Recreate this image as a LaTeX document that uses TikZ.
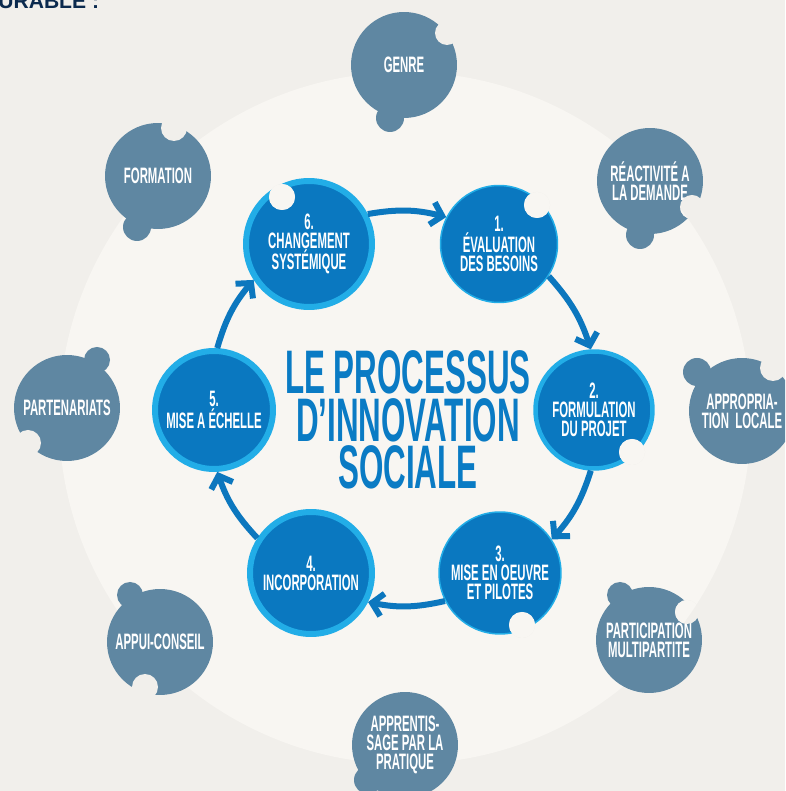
\documentclass[tikz,border=0pt]{standalone}
\usepackage{fontspec}
\usetikzlibrary{arrows.meta}
\newfontfamily\condfont{Liberation Sans Bold}[FakeStretch=0.51]
\newfontfamily\headfont{Liberation Sans Bold}
\definecolor{outerbg}{HTML}{F1EFEB}
\definecolor{innerbg}{HTML}{F8F6F2}
\definecolor{grayblue}{HTML}{5F87A2}
\definecolor{stepblue}{HTML}{0A78C0}
\definecolor{ringblue}{HTML}{22ADE7}
\definecolor{arrowblue}{HTML}{0C77BE}
\definecolor{titleblue}{HTML}{0A7BC4}
\definecolor{navy}{HTML}{0B2A4E}
\newcommand{\bite}[2]{%
\begin{scope}
\clip (#1) circle (#2);
\fill[outerbg] (0,0) rectangle (785,791);
\fill[innerbg] (405,373) circle (346);
\end{scope}}

\begin{document}
\begin{tikzpicture}[x=0.02cm,y=0.02cm,
topic/.style={circle,fill=grayblue,inner sep=0pt,minimum size=2.12cm,text=white,align=center,
  font=\condfont\fontsize{12.7}{10.8}\selectfont},
stepring/.style={circle,fill=stepblue,draw=ringblue,line width=0.12cm,inner sep=0pt,text=white,align=center,
  font=\condfont\fontsize{12.7}{10.8}\selectfont},
stepthin/.style={stepring,line width=0.03cm},
cyclearrow/.style={draw=arrowblue,line width=0.12cm,-{Straight Barb[length=6pt,width=13pt]}}
]
\useasboundingbox (0,0) rectangle (785,791);
\clip (0,0) rectangle (785,791);
\fill[outerbg] (0,0) rectangle (785,791);
\fill[innerbg] (405,373) circle (346);

\node[text=navy,anchor=base west,inner sep=0pt,font=\headfont\fontsize{12}{14}\selectfont] (head) at (-2,782) {URABLE :};

% themes around the ring
\node[topic] (genre) at (404,726) {GENRE};
\fill[grayblue] (390,673) circle (14);
\bite{447,758}{12}
\node[topic] (formation) at (158,615) {FORMATION};
\fill[grayblue] (137,564) circle (14);
\bite{174,663}{13}
\node[topic] (reactivite) at (650,610) {RÉACTIVITÉ A\\LA DEMANDE};
\fill[grayblue] (640,556) circle (14);
\bite{692,584}{12}
\node[topic] (partenariats) at (67,383) {PARTENARIATS};
\fill[grayblue] (97,431) circle (13);
\bite{28,348}{13}
\node[topic] (appropriation) at (742,380) {APPROPRIA-\\TION~ LOCALE};
\fill[grayblue] (697,419) circle (14);
\bite{773,423}{13}
\node[topic] (appui) at (160,149) {APPUI-CONSEIL};
\fill[grayblue] (130,196) circle (13);
\bite{145,104}{13}
\node[topic] (participation) at (649,151) {PARTICIPATION\\MULTIPARTITE};
\fill[grayblue] (620,196) circle (13);
\bite{687,179}{12}
\node[topic] (apprentissage) at (405,46) {APPRENTIS-\\SAGE PAR LA\\PRATIQUE};
\fill[grayblue] (368,11) circle (14);

% the six steps
\node[stepring,minimum size=2.52cm] (s6) at (309,547) {6.\\CHANGEMENT\\SYSTÉMIQUE};
\node[stepthin,minimum size=2.34cm] (s1) at (499,547) {1.\\ÉVALUATION\\DES BESOINS};
\node[stepring,line width=0.09cm,minimum size=2.34cm] (s2) at (594,381) {2.\\FORMULATION\\DU PROJET};
\node[stepthin,minimum size=2.44cm] (s3) at (500,218) {3.\\MISE EN OEUVRE\\ET PILOTES};
\node[stepring,minimum size=2.44cm] (s4) at (311,218) {4.\\INCORPORATION};
\node[stepring,minimum size=2.36cm] (s5) at (214,381) {5.\\MISE A ÉCHELLE};
\bite{282,594}{13}
\bite{537,586}{13}
\bite{632,339}{13}
\bite{522,166}{13}

\draw[cyclearrow] (s6.27) to[bend left=12] (s1.153);
\draw[cyclearrow] (s1.-33) to[bend left=12] (s2.93);
\draw[cyclearrow] (s2.-93) to[bend left=12] (s3.33);
\draw[cyclearrow] (s3.-153) to[bend left=12] (s4.-27);
\draw[cyclearrow] (s4.147) to[bend left=12] (s5.-87);
\draw[cyclearrow] (s5.87) to[bend left=12] (s6.-147);

\node[text=titleblue,align=center,inner sep=0pt,font=\condfont\fontsize{35}{27}\selectfont] (title) at (408,371)
  {LE PROCESSUS\\D’INNOVATION\\SOCIALE};
\end{tikzpicture}
\end{document}
